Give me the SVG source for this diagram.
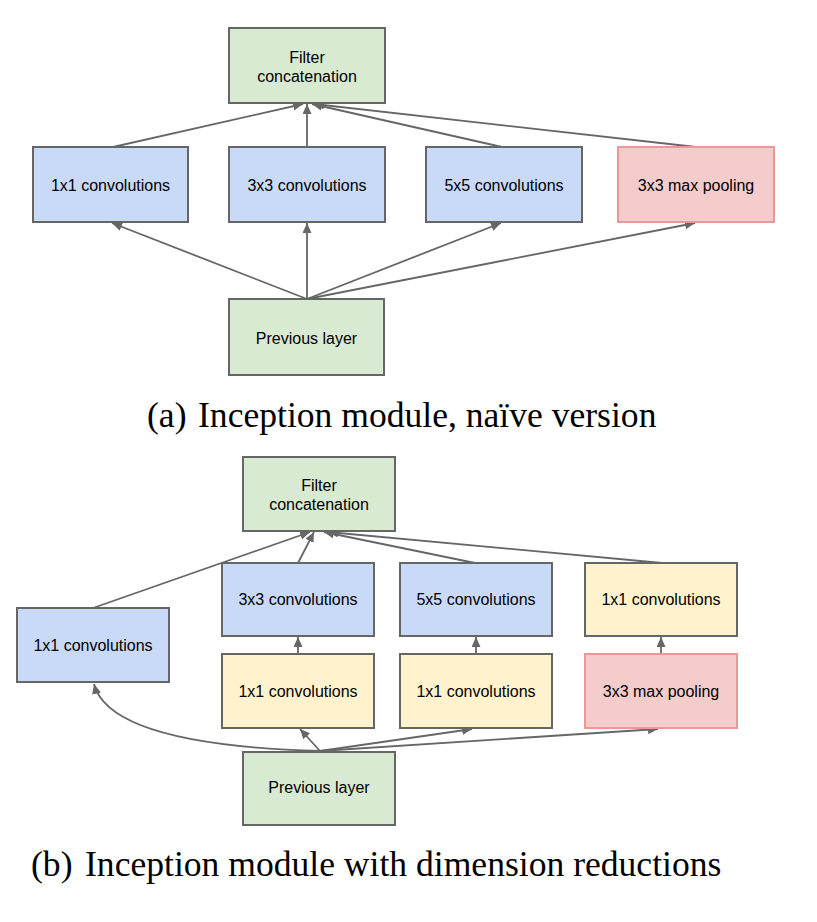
<svg xmlns="http://www.w3.org/2000/svg" width="817" height="922" viewBox="0 0 817 922">
<style>
.box{stroke:#666666;stroke-width:2}
.green{fill:#d9ead3}
.blue{fill:#c9daf8}
.yellow{fill:#fff2cc}
.pink{fill:#f4cccc;stroke:#ea9999}
.lbl{font-family:"Liberation Sans",Arial,sans-serif;font-size:16px;fill:#000;text-anchor:middle}
.cap{font-family:"Liberation Serif","Times New Roman",serif;font-size:35.6px;fill:#000}
.conn{fill:none;stroke:#666666;stroke-width:1.8;marker-end:url(#arr)}
</style>
<defs>
<marker id="arr" markerUnits="userSpaceOnUse" markerWidth="11" markerHeight="10" refX="10" refY="4.5" orient="auto">
<path d="M0,0 L10,4.5 L0,9 z" fill="#666666"/>
</marker>
</defs>
<rect width="817" height="922" fill="#ffffff"/>

<g id="a-connectors">
<line class="conn" x1="307" y1="299" x2="112" y2="223"/>
<line class="conn" x1="307" y1="299" x2="307" y2="223"/>
<line class="conn" x1="307" y1="299" x2="501" y2="223"/>
<line class="conn" x1="307" y1="299" x2="695" y2="223"/>
<line class="conn" x1="113" y1="147" x2="303" y2="104"/>
<line class="conn" x1="307" y1="147" x2="307" y2="104"/>
<line class="conn" x1="502" y1="147" x2="312" y2="104"/>
<line class="conn" x1="696" y1="147" x2="314" y2="104"/>
</g>

<g id="a-concat"><rect class="box green" x="229" y="28" width="156" height="75"/><text class="lbl" x="307" y="63">Filter</text><text class="lbl" x="307" y="82">concatenation</text></g>
<g id="a-conv1"><rect class="box blue" x="33" y="147" width="155" height="75"/><text class="lbl" x="110.5" y="191">1x1 convolutions</text></g>
<g id="a-conv3"><rect class="box blue" x="229" y="147" width="156" height="75"/><text class="lbl" x="307" y="191">3x3 convolutions</text></g>
<g id="a-conv5"><rect class="box blue" x="426" y="147" width="156" height="75"/><text class="lbl" x="504" y="191">5x5 convolutions</text></g>
<g id="a-pool"><rect class="box pink" x="618" y="147" width="156" height="75"/><text class="lbl" x="696" y="191">3x3 max pooling</text></g>
<g id="a-prev"><rect class="box green" x="229" y="299" width="155" height="76"/><text class="lbl" x="306.5" y="344">Previous layer</text></g>

<g id="caption-a"><text class="cap" x="147" y="427">(a)</text><text class="cap" x="198" y="427">Inception module, naïve version</text></g>

<g id="b-connectors">
<path class="conn" d="M320,751 Q110,745 94,684"/>
<line class="conn" x1="320" y1="751" x2="300" y2="729"/>
<line class="conn" x1="320" y1="751" x2="472" y2="729"/>
<line class="conn" x1="320" y1="751" x2="658" y2="729"/>
<line class="conn" x1="298" y1="654" x2="298" y2="637"/>
<line class="conn" x1="476" y1="654" x2="476" y2="637"/>
<line class="conn" x1="661" y1="654" x2="661" y2="637"/>
<line class="conn" x1="93" y1="608" x2="310" y2="532"/>
<line class="conn" x1="298" y1="563" x2="314" y2="532"/>
<line class="conn" x1="475" y1="563" x2="324" y2="532"/>
<line class="conn" x1="662" y1="563" x2="328" y2="532"/>
</g>

<g id="b-concat"><rect class="box green" x="243" y="457" width="152" height="74"/><text class="lbl" x="319" y="491">Filter</text><text class="lbl" x="319" y="510">concatenation</text></g>
<g id="b-conv1"><rect class="box blue" x="17" y="608" width="152" height="74"/><text class="lbl" x="93" y="651">1x1 convolutions</text></g>
<g id="b-conv3"><rect class="box blue" x="222" y="563" width="152" height="73"/><text class="lbl" x="298" y="605">3x3 convolutions</text></g>
<g id="b-conv5"><rect class="box blue" x="400" y="563" width="152" height="73"/><text class="lbl" x="476" y="605">5x5 convolutions</text></g>
<g id="b-poolproj"><rect class="box yellow" x="585" y="563" width="152" height="73"/><text class="lbl" x="661" y="605">1x1 convolutions</text></g>
<g id="b-red3"><rect class="box yellow" x="222" y="654" width="152" height="74"/><text class="lbl" x="298" y="697">1x1 convolutions</text></g>
<g id="b-red5"><rect class="box yellow" x="400" y="654" width="152" height="74"/><text class="lbl" x="476" y="697">1x1 convolutions</text></g>
<g id="b-pool"><rect class="box pink" x="585" y="654" width="152" height="74"/><text class="lbl" x="661" y="697">3x3 max pooling</text></g>
<g id="b-prev"><rect class="box green" x="243" y="752" width="152" height="73"/><text class="lbl" x="319" y="793">Previous layer</text></g>

<g id="caption-b"><text class="cap" x="31" y="876">(b)</text><text class="cap" x="85" y="876">Inception module with dimension reductions</text></g>
</svg>
